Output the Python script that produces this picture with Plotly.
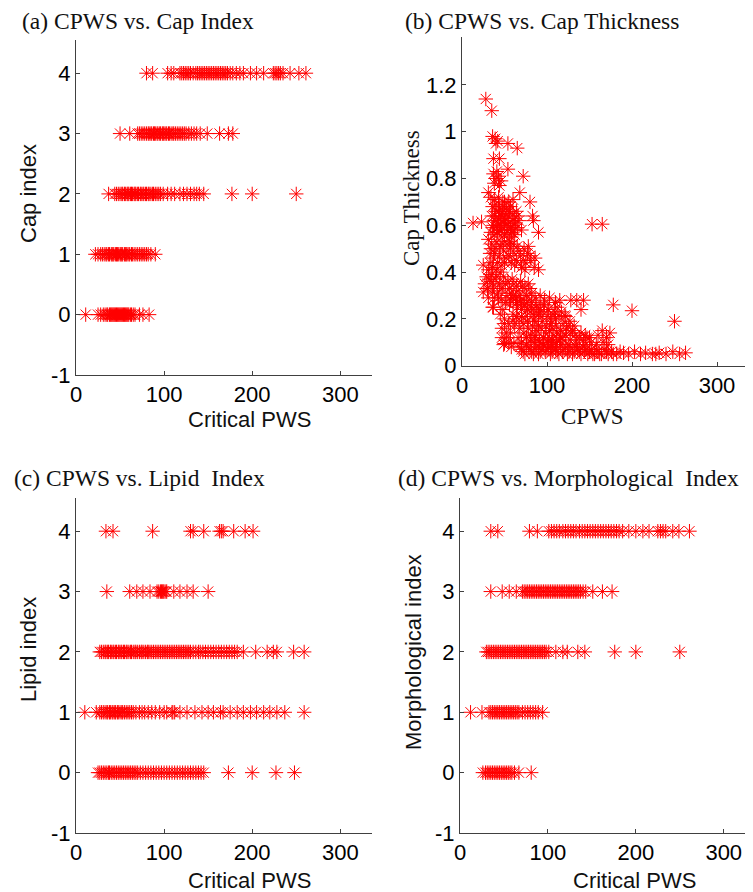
import plotly.graph_objects as go

# ---------------- data ----------------
# (a) Cap index vs critical PWS
cap0_x = [11, 25, 28, 31, 33, 35, 36, 38, 39, 40, 41, 42, 43, 44, 45, 46, 47, 48, 49, 50, 51, 52, 53, 54, 55, 56, 57, 58, 59, 60, 62, 63, 65, 67, 72, 76, 83]
cap1_x = [22, 25, 28, 30, 32, 34, 35, 37, 38, 40, 41, 42, 43, 45, 46, 47, 48, 50, 51, 52, 53, 55, 56, 57, 58, 60, 61, 63, 64, 66, 68, 70, 72, 74, 76, 78, 80, 82, 85, 90]
cap2_x = [37, 44, 46, 48, 50, 52, 53, 55, 56, 58, 59, 60, 62, 63, 64, 66, 67, 68, 70, 71, 73, 74, 76, 77, 79, 80, 82, 83, 85, 87, 88, 90, 92, 94, 96, 99, 104, 108, 112, 118, 122, 126, 130, 134, 137, 140, 145, 177, 200, 250]
cap3_x = [50, 61, 70, 72, 74, 76, 78, 80, 82, 83, 85, 86, 88, 89, 90, 92, 93, 95, 96, 98, 99, 100, 102, 103, 105, 106, 108, 110, 111, 113, 115, 117, 119, 121, 123, 125, 128, 131, 134, 137, 141, 149, 163, 173, 178]
cap4_x = [80, 87, 104, 108, 111, 118, 120, 122, 124, 126, 128, 130, 133, 136, 138, 140, 142, 144, 146, 148, 150, 152, 154, 156, 158, 160, 162, 164, 166, 168, 170, 172, 175, 178, 182, 186, 190, 198, 205, 213, 224, 226, 228, 230, 232, 235, 243, 253, 261]

# (b) CPWS vs cap thickness
b_cpws = [28, 35, 36, 39, 42, 40, 54, 65, 37, 44, 54, 72, 37, 40, 43, 46, 38, 44, 41,
          31, 68, 80, 34, 38, 43, 48, 55, 60,
          36, 40, 44, 48, 52, 56, 60, 64,
          35, 39, 43, 47, 51, 55, 59, 63, 67,
          37, 41, 45, 49, 53, 57, 61, 65,
          34, 38, 42, 46, 50, 54, 58, 62, 70,
          13, 23, 83, 84, 90, 153, 165,
          45, 50, 42, 47, 55, 52, 40, 57, 62, 48, 44, 38, 53, 36, 60, 66, 58, 50, 46, 43,
          31, 35, 39, 33, 37, 41, 45, 49, 53, 57, 61, 65, 69, 73, 77, 81, 85, 90, 75, 70, 64, 58, 52, 47, 42, 36, 25, 31,
          34, 38, 44, 48, 55, 60, 62, 67, 72, 78, 80, 56, 50, 40, 45, 33, 74, 86,
          29, 34, 39, 44, 49, 54, 59, 64, 69, 74, 78, 30, 36, 42, 48, 53, 25, 37, 31, 46, 58, 63, 68, 82, 86, 92, 97, 103, 110, 115, 128, 135, 143, 140,
          32, 37, 41, 46, 51, 56, 61, 66, 71, 76, 43, 51, 57, 72, 80, 35, 27, 38,
          50, 55, 60, 65, 70, 75, 80, 85, 90, 95, 100, 105, 110, 72, 78, 83, 88, 93, 98, 103, 108, 113, 118, 121, 123, 128, 133, 138, 143, 67, 62, 57, 52, 47, 50, 61, 52, 36,
          73, 77, 82, 87, 92, 97, 102, 107, 112, 117, 122, 127, 132, 76, 81, 86, 91, 96, 101, 106, 111, 116, 64, 69, 56, 60, 45, 48,
          60, 65, 70, 74, 77, 79, 82, 84, 86, 88, 90, 92, 94, 96, 99, 101, 104, 106, 109, 111, 114, 116, 119, 122, 125, 127, 130, 135, 140, 145, 150,
          81, 86, 91, 96, 101, 106, 111, 73, 68, 64, 60, 66, 70, 76, 85, 95, 105, 115, 125, 135, 145,
          47, 50, 55, 58, 49,
          68, 72, 76, 80, 84, 88, 92, 96, 100, 104, 108, 112, 116, 120, 124, 128, 132, 136, 140, 144, 148, 152, 156, 160, 164, 168, 172, 176, 182, 190, 196, 203, 210, 216, 224, 228, 232, 240, 248, 256, 263,
          70, 74, 78, 82, 86, 90, 94, 98, 102, 106, 110, 114, 118, 122, 126, 130, 134, 138, 142, 146, 150, 154, 158, 162, 170, 178, 186,
          160, 165, 170, 174, 166, 172, 178, 200, 250, 147, 152, 158]
b_thick = [1.14, 1.09, 0.98, 0.97, 0.96, 0.95, 0.95, 0.93, 0.885, 0.885, 0.84, 0.81, 0.82, 0.80, 0.81, 0.79, 0.78, 0.77, 0.83,
           0.74, 0.74, 0.70, 0.72, 0.71, 0.72, 0.70, 0.70, 0.71,
           0.68, 0.66, 0.67, 0.66, 0.67, 0.66, 0.65, 0.66,
           0.64, 0.62, 0.63, 0.64, 0.63, 0.64, 0.62, 0.61, 0.62,
           0.60, 0.59, 0.60, 0.61, 0.60, 0.59, 0.58, 0.59,
           0.57, 0.56, 0.57, 0.58, 0.56, 0.57, 0.55, 0.56, 0.58,
           0.61, 0.615, 0.64, 0.62, 0.57, 0.605, 0.605,
           0.65, 0.62, 0.60, 0.55, 0.61, 0.58, 0.69, 0.68, 0.63, 0.68, 0.58, 0.64, 0.65, 0.59, 0.60, 0.64, 0.57, 0.70, 0.62, 0.66,
           0.54, 0.52, 0.50, 0.48, 0.46, 0.53, 0.51, 0.49, 0.52, 0.50, 0.48, 0.51, 0.47, 0.50, 0.48, 0.45, 0.42, 0.41, 0.44, 0.42, 0.45, 0.44, 0.46, 0.43, 0.44, 0.42, 0.43, 0.41,
           0.50, 0.48, 0.47, 0.52, 0.47, 0.52, 0.43, 0.49, 0.45, 0.51, 0.47, 0.53, 0.44, 0.41, 0.40, 0.44, 0.41, 0.46,
           0.38, 0.36, 0.37, 0.35, 0.38, 0.36, 0.37, 0.34, 0.36, 0.33, 0.35, 0.33, 0.32, 0.31, 0.33, 0.30, 0.315, 0.25, 0.29, 0.28, 0.31, 0.29, 0.30, 0.31, 0.29, 0.30, 0.28, 0.29, 0.27, 0.28, 0.28, 0.28, 0.28, 0.24,
           0.37, 0.34, 0.38, 0.33, 0.35, 0.33, 0.35, 0.32, 0.34, 0.30, 0.29, 0.27, 0.28, 0.28, 0.33, 0.39, 0.35, 0.29,
           0.20, 0.18, 0.22, 0.25, 0.24, 0.21, 0.23, 0.20, 0.22, 0.19, 0.21, 0.18, 0.20, 0.18, 0.16, 0.17, 0.15, 0.16, 0.14, 0.15, 0.13, 0.14, 0.12, 0.215, 0.16, 0.14, 0.13, 0.12, 0.11, 0.20, 0.17, 0.14, 0.12, 0.16, 0.095, 0.095, 0.14, 0.25,
           0.26, 0.24, 0.27, 0.25, 0.23, 0.26, 0.24, 0.22, 0.25, 0.23, 0.21, 0.19, 0.17, 0.12, 0.11, 0.13, 0.10, 0.12, 0.11, 0.10, 0.09, 0.12, 0.27, 0.28, 0.26, 0.29, 0.22, 0.24,
           0.30, 0.27, 0.21, 0.26, 0.19, 0.28, 0.25, 0.22, 0.19, 0.26, 0.17, 0.24, 0.21, 0.26, 0.17, 0.24, 0.20, 0.16, 0.23, 0.17, 0.21, 0.15, 0.18, 0.13, 0.17, 0.11, 0.15, 0.11, 0.14, 0.13, 0.12,
           0.13, 0.12, 0.11, 0.12, 0.10, 0.11, 0.10, 0.14, 0.16, 0.21, 0.19, 0.12, 0.10, 0.12, 0.10, 0.09, 0.08, 0.11, 0.09, 0.09, 0.09,
           0.12, 0.18, 0.10, 0.08, 0.09,
           0.08, 0.06, 0.09, 0.07, 0.05, 0.08, 0.06, 0.09, 0.07, 0.05, 0.08, 0.06, 0.09, 0.07, 0.05, 0.08, 0.06, 0.07, 0.05, 0.06, 0.05, 0.07, 0.05, 0.06, 0.05, 0.07, 0.05, 0.06, 0.05, 0.055, 0.05, 0.06, 0.05, 0.055, 0.05, 0.05, 0.055, 0.05, 0.06, 0.05, 0.055,
           0.07, 0.05, 0.08, 0.06, 0.07, 0.05, 0.07, 0.06, 0.08, 0.06, 0.07, 0.05, 0.06, 0.08, 0.06, 0.05, 0.08, 0.06, 0.08, 0.07, 0.06, 0.05, 0.07, 0.05, 0.06, 0.05, 0.06,
           0.13, 0.15, 0.12, 0.14, 0.10, 0.09, 0.26, 0.235, 0.19, 0.12, 0.10, 0.09]

# (c) Lipid index vs critical PWS
lip0_x = [25, 27, 29, 31, 33, 35, 37, 38, 40, 42, 44, 46, 48, 50, 52, 54, 56, 58, 60, 62, 64, 66, 68, 70, 73, 76, 79, 82, 85, 88, 91, 94, 97, 100, 103, 106, 109, 112, 115, 118, 121, 124, 127, 130, 133, 136, 139, 142, 145, 173, 200, 227, 248]
lip1_x = [10, 23, 27, 29, 31, 33, 35, 36, 38, 39, 41, 42, 44, 45, 47, 48, 50, 52, 53, 55, 57, 59, 61, 63, 65, 68, 72, 75, 78, 82, 86, 90, 95, 100, 103, 109, 110, 112, 118, 126, 135, 143, 150, 156, 164, 167, 175, 183, 190, 198, 205, 213, 220, 228, 237, 259]
lip2_x = [27, 29, 31, 33, 34, 36, 37, 39, 40, 42, 43, 45, 46, 48, 49, 51, 52, 54, 55, 57, 58, 60, 62, 63, 65, 67, 68, 70, 72, 74, 75, 77, 79, 81, 82, 84, 86, 88, 90, 92, 94, 96, 98, 100, 102, 104, 106, 108, 110, 112, 114, 116, 118, 120, 122, 124, 126, 128, 130, 133, 136, 139, 141, 144, 147, 150, 153, 156, 159, 162, 165, 168, 171, 174, 177, 180, 183, 190, 204, 217, 224, 228, 247, 259]
lip3_x = [35, 61, 69, 76, 84, 92, 94, 96, 97, 98, 99, 100, 102, 103, 111, 118, 126, 133, 150]
lip4_x = [34, 42, 87, 130, 133, 145, 163, 165, 167, 179, 192, 201]

# (d) Morphological index vs critical PWS
mor0_x = [26, 29, 31, 33, 35, 37, 39, 41, 43, 45, 47, 49, 51, 53, 55, 57, 59, 62, 67, 81]
mor1_x = [12, 25, 33, 35, 37, 39, 41, 43, 45, 47, 49, 51, 53, 55, 57, 59, 61, 63, 65, 67, 71, 74, 77, 80, 83, 86, 89, 94]
mor2_x = [30, 32, 34, 36, 38, 40, 42, 44, 46, 48, 50, 52, 54, 56, 58, 60, 62, 64, 66, 68, 70, 72, 74, 76, 78, 80, 82, 84, 86, 88, 90, 92, 94, 96, 98, 101, 109, 117, 122, 134, 142, 176, 200, 250]
mor3_x = [35, 48, 56, 64, 71, 73, 75, 77, 79, 81, 83, 85, 87, 89, 91, 93, 95, 97, 99, 101, 103, 105, 107, 109, 111, 113, 115, 117, 119, 121, 123, 125, 127, 129, 131, 133, 135, 137, 140, 143, 151, 162, 173]
mor4_x = [35, 43, 79, 88, 101, 104, 107, 110, 113, 117, 120, 123, 126, 129, 132, 136, 139, 142, 145, 148, 151, 154, 157, 160, 163, 166, 169, 172, 175, 178, 181, 185, 192, 200, 208, 215, 225, 228, 231, 234, 242, 249, 261]

index_ticks = [-1, 0, 1, 2, 3, 4]
index_labels = ["-1", "0", "1", "2", "3", "4"]
pws_ticks = [0, 100, 200, 300]
thick_ticks = [0, 0.2, 0.4, 0.6, 0.8, 1.0, 1.2]
thick_labels = ["0", "0.2", "0.4", "0.6", "0.8", "1", "1.2"]

# ---------------- figure ----------------
OFF = 8                       # default page (body) margin of the browser
W, H = 753 - OFF, 892 - OFF
RED = "#ff0000"
SANS = "Liberation Sans, Arial, sans-serif"
SERIF = "Liberation Serif, Times New Roman, serif"


def px_x(p):
    return (p - OFF) / W


def px_y(p):
    return 1 - (p - OFF) / H


fig = go.Figure()

marker = dict(symbol="asterisk-open", size=12, color=RED, line=dict(color=RED, width=1))


def add_rows(rows, xa, ya):
    for yv, xs in rows:
        fig.add_trace(go.Scatter(x=xs, y=[yv] * len(xs), mode="markers", marker=marker,
                                 xaxis=xa, yaxis=ya, hoverinfo="x+y"))


add_rows([(0, cap0_x), (1, cap1_x), (2, cap2_x), (3, cap3_x), (4, cap4_x)], "x", "y")
fig.add_trace(go.Scatter(x=b_cpws, y=b_thick, mode="markers", marker=marker, xaxis="x2", yaxis="y2"))
add_rows([(0, lip0_x), (1, lip1_x), (2, lip2_x), (3, lip3_x), (4, lip4_x)], "x3", "y3")
add_rows([(0, mor0_x), (1, mor1_x), (2, mor2_x), (3, mor3_x), (4, mor4_x)], "x4", "y4")

axis_common = dict(showline=True, linecolor="#404040", linewidth=1, ticks="inside", ticklen=4,
                   tickcolor="#404040", showgrid=False, zeroline=False, mirror=False, automargin=False,
                   tickfont=dict(family=SANS, size=22, color="#000"))
idx_axis = dict(range=[-1, 4.55], tickvals=index_ticks, ticktext=index_labels, **axis_common)
pws_axis = dict(tickvals=pws_ticks, **axis_common)

fig.update_layout(
    width=W, height=H, margin=dict(l=0, r=0, t=0, b=0, pad=0, autoexpand=False),
    paper_bgcolor="white", plot_bgcolor="white", showlegend=False,
    xaxis=dict(domain=[px_x(76), px_x(372)], range=[0, 336], anchor="y", **pws_axis),
    yaxis=dict(domain=[px_y(375), px_y(40)], anchor="x", **idx_axis),
    xaxis2=dict(domain=[px_x(462), px_x(751)], range=[0, 340], anchor="y2", **pws_axis),
    yaxis2=dict(domain=[px_y(365.7), px_y(37)], range=[0, 1.405], tickvals=thick_ticks, ticktext=thick_labels,
                anchor="x2", **axis_common),
    xaxis3=dict(domain=[px_x(76), px_x(372)], range=[0, 336], anchor="y3", **pws_axis),
    yaxis3=dict(domain=[px_y(833), px_y(498)], anchor="x3", **idx_axis),
    xaxis4=dict(domain=[px_x(460), px_x(751)], range=[0, 331], anchor="y4", **pws_axis),
    yaxis4=dict(domain=[px_y(833), px_y(498)], anchor="x4", **idx_axis),
)

annots = [
    # panel titles
    dict(text="(a) CPWS vs. Cap Index", x=20, y=21, xanchor="left", font=dict(family=SERIF, size=23.5)),
    dict(text="(b) CPWS vs. Cap Thickness", x=403, y=21, xanchor="left", font=dict(family=SERIF, size=23.5)),
    dict(text="(c) CPWS vs. Lipid  Index", x=12, y=478, xanchor="left", font=dict(family=SERIF, size=23.5)),
    dict(text="(d) CPWS vs. Morphological  Index", x=396, y=478, xanchor="left", font=dict(family=SERIF, size=23.5)),
    # x axis titles
    dict(text="Critical PWS", x=249, y=419, font=dict(family=SANS, size=22)),
    dict(text="CPWS", x=592, y=416, font=dict(family=SERIF, size=23)),
    dict(text="Critical PWS", x=249, y=880, font=dict(family=SANS, size=22)),
    dict(text="Critical PWS", x=634, y=880, font=dict(family=SANS, size=22)),
    # y axis titles
    dict(text="Cap index", x=28, y=194, textangle=-90, font=dict(family=SANS, size=22)),
    dict(text="Cap Thickness", x=411, y=198, textangle=-90, font=dict(family=SERIF, size=23)),
    dict(text="Lipid index", x=28, y=650, textangle=-90, font=dict(family=SANS, size=22)),
    dict(text="Morphological index", x=413, y=652, textangle=-90, font=dict(family=SANS, size=22)),
]
for a in annots:
    a.setdefault("xanchor", "center")
    a["x"] = px_x(a["x"])
    a["y"] = px_y(a["y"])
    a["font"]["color"] = "#111"
    fig.add_annotation(xref="paper", yref="paper", yanchor="middle", showarrow=False, **a)

fig.write_html("out.html", config={"displayModeBar": False})
